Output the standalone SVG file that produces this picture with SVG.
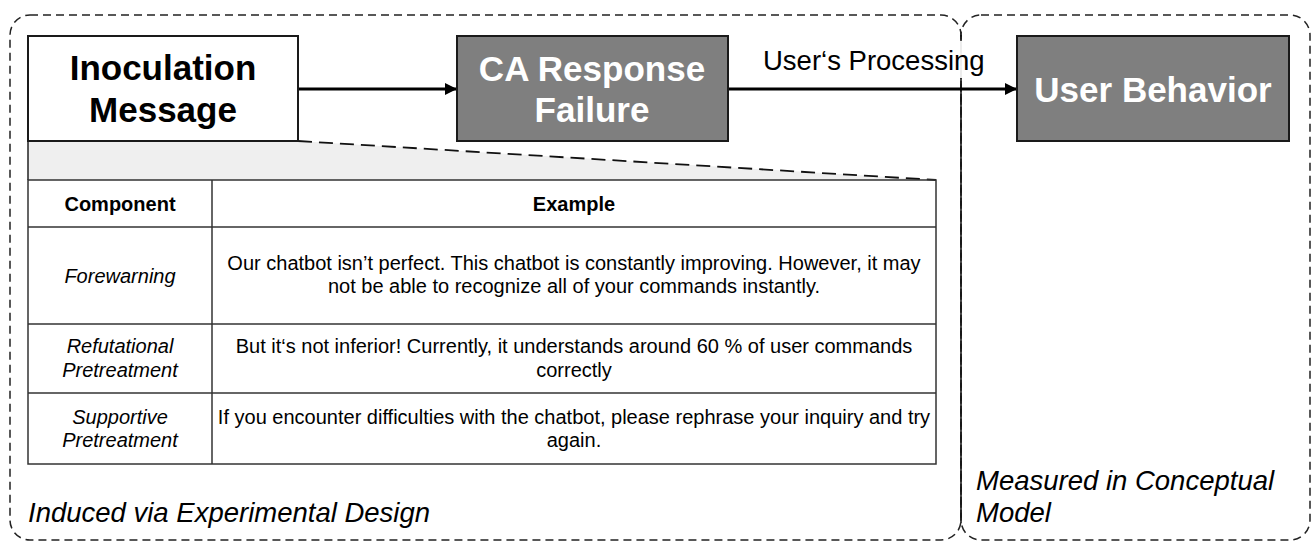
<svg xmlns="http://www.w3.org/2000/svg" width="1311" height="541" viewBox="0 0 1311 541">
<style>
.frame{fill:none;stroke:#222;stroke-width:1.5;stroke-dasharray:8,5}
.node{stroke:#1a1a1a;stroke-width:2}
.white{fill:#ffffff}
.gray{fill:#7f7f7f}
.title{font-family:"Liberation Sans",Arial,sans-serif;font-weight:bold;font-size:35px;text-anchor:middle}
.tw{fill:#ffffff}
.tb{fill:#000000}
.conn{stroke:#000;stroke-width:3;fill:none}
.cell{fill:none;stroke:#333;stroke-width:1.5}
.tt{font-family:"Liberation Sans",Arial,sans-serif;font-size:20px;fill:#000;text-anchor:middle}
.hd{font-weight:bold}
.it{font-style:italic}
.lab{font-family:"Liberation Sans",Arial,sans-serif;font-size:27.5px;font-style:italic;fill:#000}
</style>
<defs>
<marker id="arr" markerWidth="12" markerHeight="12" refX="11" refY="6" orient="auto" markerUnits="userSpaceOnUse">
<path d="M0,0 L12,6 L0,12 Z" fill="#000"/>
</marker>
</defs>
<rect width="1311" height="541" fill="#fff"/>
<g id="frames">
<rect class="frame" x="10" y="15" width="951" height="525" rx="20" ry="20"/>
<rect class="frame" x="961" y="15" width="349" height="525" rx="20" ry="20"/>
<line x1="961" y1="35" x2="961" y2="523" stroke="#111" stroke-width="1.5"/>
<text class="lab" x="28" y="522">Induced via Experimental Design</text>
<text class="lab" x="976" y="490">Measured in Conceptual</text>
<text class="lab" x="976" y="522">Model</text>
</g>
<g id="zoom">
<polygon points="28,141 298,141 936,180 28,180" fill="#efefef"/>
<line x1="298" y1="141" x2="936" y2="180" stroke="#111" stroke-width="1.8" stroke-dasharray="14,7"/>
<line x1="28" y1="141" x2="28" y2="180" stroke="#222" stroke-width="1.5"/>
</g>
<g id="connectors">
<line class="conn" x1="298" y1="89" x2="456" y2="89" marker-end="url(#arr)"/>
<line class="conn" x1="728" y1="89" x2="1016" y2="89" marker-end="url(#arr)"/>
<rect x="752" y="41" width="245" height="37" fill="#fff" opacity="0.92"/>
<text x="763" y="70" font-family="'Liberation Sans',Arial,sans-serif" font-size="27.5" fill="#000">User‘s Processing</text>
</g>
<g id="inoculation">
<rect class="node white" x="28" y="36" width="270" height="105"/>
<text class="title tb" x="163" y="80">Inoculation</text>
<text class="title tb" x="163" y="122">Message</text>
</g>
<g id="ca-failure">
<rect class="node gray" x="457" y="36" width="271" height="105"/>
<text class="title tw" x="592" y="81">CA Response</text>
<text class="title tw" x="592" y="122">Failure</text>
</g>
<g id="user-behavior">
<rect class="node gray" x="1017" y="36" width="272" height="105"/>
<text class="title tw" x="1153" y="102">User Behavior</text>
</g>
<g id="table">
<rect class="cell" x="28" y="180" width="908" height="284" fill="#fff"/>
<line class="cell" x1="212" y1="180" x2="212" y2="464"/>
<line class="cell" x1="28" y1="227" x2="936" y2="227"/>
<line class="cell" x1="28" y1="324" x2="936" y2="324"/>
<line class="cell" x1="28" y1="393" x2="936" y2="393"/>
<text class="tt hd" x="120" y="211">Component</text>
<text class="tt hd" x="574" y="211">Example</text>
<text class="tt it" x="120" y="283">Forewarning</text>
<text class="tt" x="574" y="270">Our chatbot isn’t perfect. This chatbot is constantly improving. However, it may</text>
<text class="tt" x="574" y="293">not be able to recognize all of your commands instantly.</text>
<text class="tt it" x="120" y="353">Refutational</text>
<text class="tt it" x="120" y="377">Pretreatment</text>
<text class="tt" x="574" y="353">But it‘s not inferior! Currently, it understands around 60 % of user commands</text>
<text class="tt" x="574" y="377">correctly</text>
<text class="tt it" x="120" y="424">Supportive</text>
<text class="tt it" x="120" y="447">Pretreatment</text>
<text class="tt" x="574" y="424">If you encounter difficulties with the chatbot, please rephrase your inquiry and try</text>
<text class="tt" x="574" y="447">again.</text>
</g>
</svg>
